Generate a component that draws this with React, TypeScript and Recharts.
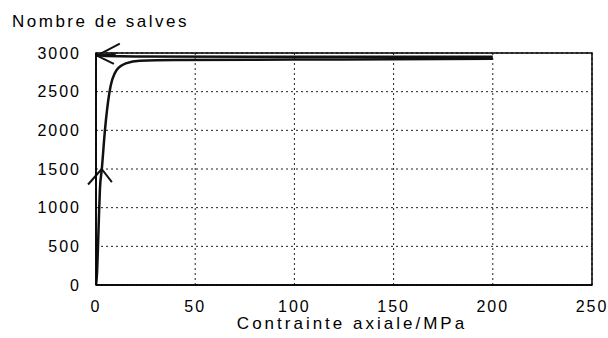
import React from 'react';
import { LineChart, Line, XAxis, YAxis, CartesianGrid, ReferenceArea, ReferenceLine } from 'recharts';

const xTicks = [0, 50, 100, 150, 200, 250];
const yTicks = [0, 500, 1000, 1500, 2000, 2500, 3000];

const loadStress = [0, 0.5, 1, 1.5, 2, 2.9, 4.5, 6.7, 10.4, 15.5, 22, 40, 100, 150, 200];
const loadCount = [0, 150, 500, 900, 1250, 1490, 2000, 2480, 2780, 2870, 2900, 2910, 2915, 2920, 2925];

const unloadStress = [200, 100, 20, 5, 0];
const unloadCount = [2950, 2950, 2955, 2960, 2975];

// hand-drawn arrow strokes: [x1, y1, x2, y2] in data units
const arrowStrokes = [
  [2.9, 1500, 8, 1330],
  [2.9, 1500, -4, 1300],
  [0.5, 2965, 12, 3120],
  [0.5, 2965, 10, 2990],
  [0.5, 2965, 9, 2860],
];

const loadData = loadStress.map((x, i) => ({ x, y: loadCount[i] }));
const unloadData = unloadStress.map((x, i) => ({ x, y: unloadCount[i] }));

const font = '"Liberation Sans", Arial, sans-serif';

export default function App() {
  return (
    <div style={{ position: 'absolute', left: 0, top: 0, width: 608, height: 338, background: '#fff', fontFamily: font }}>
      <div style={{ position: 'absolute', left: 12, top: 12, fontSize: 17, letterSpacing: 2.5, color: '#000', whiteSpace: 'nowrap' }}>
        Nombre de salves
      </div>
      <LineChart width={608} height={338} margin={{ top: 53, right: 16, left: 0, bottom: 13 }}>
        <CartesianGrid stroke="#222" strokeDasharray="2 3" strokeWidth={1} />
        <XAxis
          type="number"
          dataKey="x"
          domain={[0, 250]}
          ticks={xTicks}
          allowDataOverflow
          height={40}
          tickSize={0}
          tickMargin={16}
          axisLine={{ stroke: '#000', strokeWidth: 1.5 }}
          tick={{ fill: '#000', fontSize: 16, fontFamily: font, letterSpacing: 2 }}
          label={{ value: 'Contrainte axiale/MPa', position: 'insideBottom', offset: -4, fill: '#000', fontSize: 17, fontFamily: font, letterSpacing: 3, dx: 8 }}
        />
        <YAxis
          type="number"
          dataKey="y"
          domain={[0, 3000]}
          ticks={yTicks}
          allowDataOverflow
          width={96}
          tickSize={0}
          tickMargin={15}
          axisLine={{ stroke: '#000', strokeWidth: 1.5 }}
          tick={{ fill: '#000', fontSize: 16, fontFamily: font, letterSpacing: 2 }}
        />
        <ReferenceArea x1={0} x2={250} y1={0} y2={3000} fill="none" stroke="#000" strokeWidth={1.5} ifOverflow="visible" />
        <Line data={unloadData} dataKey="y" type="linear" stroke="#111" strokeWidth={2.5} dot={false} isAnimationActive={false} />
        <Line data={loadData} dataKey="y" type="monotone" stroke="#111" strokeWidth={2.5} dot={false} isAnimationActive={false} />
        {arrowStrokes.map((s, i) => (
          <ReferenceLine
            key={i}
            segment={[{ x: s[0], y: s[1] }, { x: s[2], y: s[3] }]}
            stroke="#111"
            strokeWidth={2}
            ifOverflow="visible"
          />
        ))}
      </LineChart>
    </div>
  );
}
